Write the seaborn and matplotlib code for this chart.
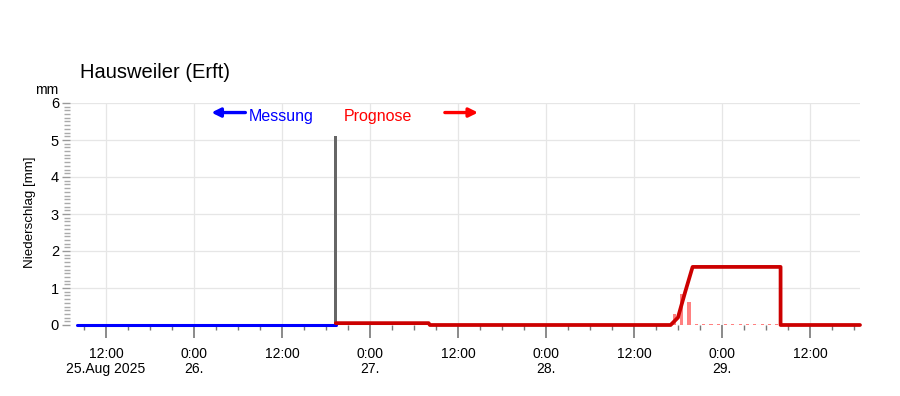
"""
Niederschlag Hausweiler (Erft): Messung + Prognose, nachgebaut mit seaborn.
"""

import matplotlib
matplotlib.use("Agg")  # no display in the sandbox
import matplotlib.pyplot as plt
from matplotlib.ticker import MultipleLocator, FixedLocator, FixedFormatter
import pandas as pd
import seaborn as sns

TITLE = "Hausweiler (Erft)"

# measurement (blue) – all zero up to "now"
meas_times  = ["2025-08-25 08:00", "2025-08-26 19:20"]
meas_values = [0.0, 0.0]

# last measured bar (grey spike)
spike_times  = ["2025-08-26 19:20"]
spike_values = [5.1]

# forecast sum line (red)
fc_times = [
    "2025-08-26 19:20", "2025-08-27 08:00", "2025-08-27 08:10",
    "2025-08-28 17:00", "2025-08-28 18:00", "2025-08-28 19:00",
    "2025-08-28 20:00", "2025-08-29 08:00", "2025-08-29 08:00",
    "2025-08-29 18:50",
]
fc_values = [0.05, 0.05, 0.0, 0.0, 0.2, 0.9, 1.57, 1.57, 0.0, 0.0]

# hourly forecast bars (light red)
bar_times = [
    "2025-08-28 17:30", "2025-08-28 18:30", "2025-08-28 19:30",
    "2025-08-28 20:30", "2025-08-28 21:30", "2025-08-28 22:30",
    "2025-08-28 23:30", "2025-08-29 00:30", "2025-08-29 01:30",
    "2025-08-29 02:30", "2025-08-29 03:30", "2025-08-29 04:30",
    "2025-08-29 05:30", "2025-08-29 06:30", "2025-08-29 07:30",
]
bar_values = [0.31, 0.84, 0.62, 0.04, 0.04, 0.04, 0.04, 0.04,
              0.04, 0.04, 0.04, 0.04, 0.04, 0.04, 0.04]

tick_times = [
    "2025-08-25 12:00", "2025-08-26 00:00", "2025-08-26 12:00",
    "2025-08-27 00:00", "2025-08-27 12:00", "2025-08-28 00:00",
    "2025-08-28 12:00", "2025-08-29 00:00", "2025-08-29 12:00",
]
tick_labels = [
    "12:00\n25.Aug 2025", "0:00\n26.", "12:00", "0:00\n27.", "12:00",
    "0:00\n28.", "12:00", "0:00\n29.", "12:00",
]
x_range = ["2025-08-25 07:05", "2025-08-29 18:50"]

sns.set_style("whitegrid", {"grid.color": "#e6e6e6", "text.color": "black",
                            "xtick.color": "black", "ytick.color": "black",
                            "axes.labelcolor": "black"})
plt.rcParams["font.family"] = ["Liberation Sans", "DejaVu Sans"]

meas = pd.DataFrame({"t": pd.to_datetime(meas_times), "v": meas_values})
fc   = pd.DataFrame({"t": pd.to_datetime(fc_times), "v": fc_values})

fig = plt.figure(figsize=(9, 3.96), dpi=100)
ax  = fig.add_axes([70 / 900, 1 - 325 / 396, 790 / 900, 222 / 396])

# bars first, lines on top
ax.bar(pd.to_datetime(bar_times), bar_values, width=0.018,
       color="#ff8080", linewidth=0, zorder=2)
ax.bar(pd.to_datetime(spike_times), spike_values, width=0.017,
       color="#666666", linewidth=0, zorder=2)

sns.lineplot(data=meas, x="t", y="v", color="#0000ff", linewidth=2.2,
             estimator=None, sort=False, ax=ax, zorder=3, clip_on=False)
sns.lineplot(data=fc, x="t", y="v", color="#cc0000", linewidth=2.7,
             estimator=None, sort=False, ax=ax, zorder=4, clip_on=False)

# axes, ticks, grid
ax.set_xlim(pd.to_datetime(x_range[0]), pd.to_datetime(x_range[1]))
ax.set_ylim(0, 6)
major_x = [matplotlib.dates.date2num(pd.Timestamp(t)) for t in tick_times]
ax.xaxis.set_major_locator(FixedLocator(major_x))
ax.xaxis.set_major_formatter(FixedFormatter(tick_labels))
ax.xaxis.set_minor_locator(matplotlib.dates.HourLocator(byhour=range(0, 24, 3)))
ax.yaxis.set_major_locator(MultipleLocator(1))
ax.yaxis.set_minor_locator(MultipleLocator(0.1))

for s in ax.spines.values():
    s.set_visible(False)
ax.grid(True, which="major", color="#e6e6e6", linewidth=0.9, zorder=0)
ax.grid(False, which="minor")

ax.tick_params(axis="x", which="major", length=9, width=1.2, color="#777777",
               pad=7, labelsize=10, labelcolor="black", bottom=True)
ax.tick_params(axis="x", which="minor", length=3.5, width=1, color="#777777",
               bottom=True)
ax.tick_params(axis="y", which="major", length=6, width=1, color="#999999",
               pad=2, labelsize=10.5, labelcolor="black", left=True)
ax.tick_params(axis="y", which="minor", length=4.5, width=1, color="#aaaaaa",
               left=True)
for lbl in ax.get_xticklabels():
    lbl.set_linespacing(1.05)

ax.set_xlabel("")
ax.set_ylabel("Niederschlag [mm]", fontsize=9.6, color="black")
ax.yaxis.set_label_coords(-0.043, 0.51)
ax.text(-0.029, 1.06, "mm", transform=ax.transAxes, ha="center",
        va="center", fontsize=10, color="black")

# Messung / Prognose markers
ax.annotate("", xy=(0.179, 0.957), xytext=(0.222, 0.957),
            xycoords="axes fraction",
            arrowprops=dict(arrowstyle="-|>", color="#0000ff", lw=2.4,
                            mutation_scale=13, shrinkA=0, shrinkB=0))
ax.text(0.2265, 0.94, "Messung", transform=ax.transAxes, color="#0000ff",
        ha="left", va="center", fontsize=11.5)
ax.text(0.347, 0.94, "Prognose", transform=ax.transAxes, color="#ff0000",
        ha="left", va="center", fontsize=11.5)
ax.annotate("", xy=(0.5165, 0.957), xytext=(0.4745, 0.957),
            xycoords="axes fraction",
            arrowprops=dict(arrowstyle="-|>", color="#ff0000", lw=2.4,
                            mutation_scale=13, shrinkA=0, shrinkB=0))

fig.text(80 / 900, 1 - 73 / 396, TITLE, ha="left", va="center", fontsize=14.5,
         color="black")

fig.savefig("out.png", dpi=100)
plt.close(fig)
